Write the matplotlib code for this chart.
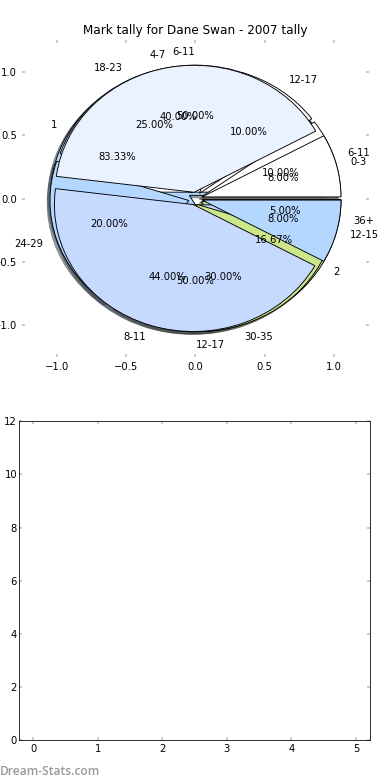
import matplotlib
matplotlib.use("Agg")
import matplotlib.pyplot as plt

# mark tallies (several pies drawn over each other on one axes)
labels_a = ['1', '2']
marks_a = [5, 1]

labels_b = ['6-11', '12-17']
marks_b = [1, 1]

labels_e = ['6-11', '12-17', '18-23', '24-29', '30-35', '36+']
marks_e = [2, 2, 5, 4, 6, 1]

labels_d = ['0-3', '4-7', '8-11', '12-15']
marks_d = [2, 10, 11, 2]

title = 'Mark tally for Dane Swan - 2007 tally'

colors_a = ['#B4D7FF', '#CCE68A']
colors_b = ['white', '#C6D9FF']
colors_e = ['white', 'white', '#EAF1FF', '#B4D7FF', '#CCE68A', '#B4D7FF']
colors_d = ['white', '#EAF1FF', '#C6D9FF', '#B4D7FF']

plt.rcParams['font.size'] = 10

fig = plt.figure(figsize=(390 / 72, 780 / 72), dpi=72)
ax = fig.add_axes([0.056, 0.542, 0.890, 0.407])

wp = {'edgecolor': 'black', 'linewidth': 0.9}
for marks, labs, cols in [(marks_a, labels_a, colors_a),
                          (marks_b, labels_b, colors_b),
                          (marks_e, labels_e, colors_e),
                          (marks_d, labels_d, colors_d)]:
    ax.pie(marks, labels=labs, colors=cols, explode=[0.05] * len(marks),
           autopct='%1.2f%%', shadow=True, wedgeprops=wp)

ax.set_aspect('auto')
ax.set_xlim(-1.25, 1.25)
ax.set_ylim(-1.25, 1.25)
ax.set_xticks([-1.0, -0.5, 0.0, 0.5, 1.0])
ax.set_yticks([-1.0, -0.5, 0.0, 0.5, 1.0])
ax.set_frame_on(False)
ax.tick_params(direction='in', color='#bbbbbb', length=3, width=1.5,
               top=True, right=True, pad=5)
ax.set_title(title, fontsize=12, pad=6)

ax2 = fig.add_axes([0.049, 0.051, 0.900, 0.409])
ax2.set_xlim(-0.22, 5.22)
ax2.set_ylim(0, 12)
ax2.set_xticks(range(0, 6))
ax2.set_yticks(range(0, 13, 2))
ax2.tick_params(direction='in', color='#bbbbbb', length=3, width=1.5,
                top=True, right=True, pad=4)
ax2.tick_params(axis='y', pad=2)

fig.text(0.0, 0.002, 'Dream-Stats.com', color='#999999', fontsize=12,
         family='Open Sans', weight='semibold', ha='left', va='bottom')

fig.savefig('out.png', dpi=72)
